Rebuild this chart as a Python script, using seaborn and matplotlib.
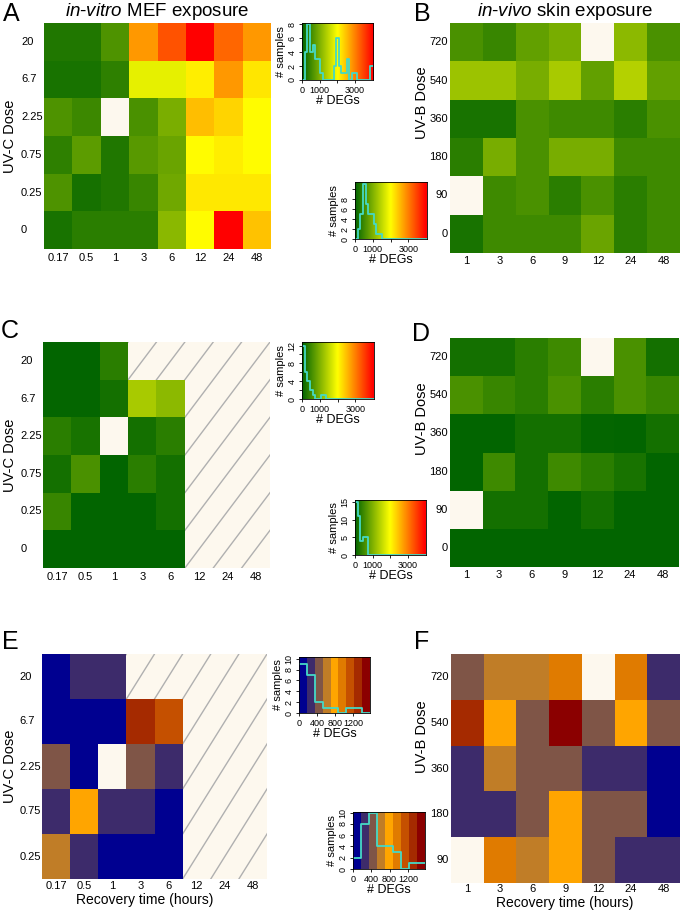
import numpy as np
import pandas as pd
import matplotlib
matplotlib.use("Agg")
from matplotlib import pyplot as plt
from matplotlib.colors import LinearSegmentedColormap, ListedColormap, BoundaryNorm
import seaborn as sns

plt.rcParams['font.family'] = ['Liberation Sans', 'DejaVu Sans']
plt.rcParams['mathtext.fontset'] = 'custom'
plt.rcParams['mathtext.it'] = 'Liberation Sans:italic'
plt.rcParams['mathtext.rm'] = 'Liberation Sans'

NA = np.nan   # sample missing -> blank cell
NT = None     # time point not tested -> hatched cell

invitro_times = ['0.17', '0.5', '1', '3', '6', '12', '24', '48']
invitro_doses = ['20', '6.7', '2.25', '0.75', '0.25', '0']
invivo_times = ['1', '3', '6', '9', '12', '24', '48']
invivo_doses = ['720', '540', '360', '180', '90', '0']

# number of DEGs per sample
a_degs = [
    [250, 250, 620, 2800, 3350, 4000, 3200, 2800],
    [200, 200, 370, 1800, 1800, 2130, 2800, 2200],
    [620, 480, NA, 580, 960, 2500, 2330, 2020],
    [360, 720, 250, 700, 830, 2020, 2130, 2020],
    [620, 180, 250, 450, 880, 2180, 2180, 2180],
    [200, 330, 330, 330, 1080, 2020, 4000, 2480],
]
b_degs = [
    [580, 450, 770, 940, NA, 1100, 580],
    [1230, 1230, 940, 1320, 780, 1410, 770],
    [200, 200, 580, 490, 490, 330, 580],
    [330, 940, 580, 940, 940, 490, 490],
    [NA, 490, 580, 330, 580, 330, 490],
    [200, 490, 490, 490, 830, 330, 490],
]
c_degs = [
    [30, 30, 330, NT, NT, NT, NT, NT],
    [40, 40, 160, 1320, 1100, NT, NT, NT],
    [330, 200, NA, 160, 330, NT, NT, NT],
    [160, 580, 20, 330, 160, NT, NT, NT],
    [450, 30, 30, 30, 160, NT, NT, NT],
    [20, 20, 20, 20, 20, NT, NT, NT],
]
d_degs = [
    [160, 160, 330, 490, NA, 580, 160],
    [580, 450, 330, 580, 330, 580, 450],
    [20, 20, 160, 160, 40, 20, 160],
    [20, 490, 160, 490, 330, 200, 20],
    [NA, 160, 160, 20, 160, 20, 20],
    [20, 20, 20, 20, 20, 20, 20],
]
e_degs = [
    [90, 240, 260, NT, NT, NT, NT, NT],
    [60, 110, 130, 1310, 1130, NT, NT, NT],
    [420, 150, NA, 460, 300, NT, NT, NT],
    [280, 780, 230, 250, 100, NT, NT, NT],
    [610, 320, 70, 120, 140, NT, NT, NT],
]
f_degs = [
    [450, 620, 650, 960, NA, 940, 290],
    [1280, 760, 400, 1480, 470, 820, 430],
    [230, 600, 380, 440, 260, 310, 80],
    [210, 330, 500, 800, 410, 460, 120],
    [NA, 990, 580, 840, 390, 270, 300],
]

# histogram counts in the colour keys (bins of 150 DEGs from 0 to 4050)
a_hist = [0, 4, 8, 4, 5, 3, 3, 1, 0, 0, 0, 0, 2, 6, 2, 1, 1, 3, 0, 1, 1, 0, 0, 0, 0, 0, 2]
b_hist = [0, 2, 5, 11, 7, 5, 5, 3, 1, 1, 0, 0, 0, 0, 0, 0, 0, 0, 0, 0, 0, 0, 0, 0, 0, 0, 0]
c_hist = [12, 6, 4, 2, 1, 0, 0, 1, 1, 0, 0, 0, 0, 0, 0, 0, 0, 0, 0, 0, 0, 0, 0, 0, 0, 0, 0]
d_hist = [15, 11, 4, 5, 5, 0, 0, 0, 0, 0, 0, 0, 0, 0, 0, 0, 0, 0, 0, 0, 0, 0, 0, 0, 0, 0, 0]

W, H = 683, 911
CREAM = '#fdf8ee'
HATCH = '#b0b0b0'
TURQ = '#45d9c6'

green_cmap = LinearSegmentedColormap.from_list('gyr', ['#006400', '#ffff00', '#ff0000'])
GREEN_MAX = 4000
band_colors = ['#000090', '#3d2b6b', '#7f5547', '#c07d27', '#ffa500',
               '#e07b00', '#c55000', '#a52a00', '#8b0000']
band_edges = [float(e) for e in np.arange(0, 1576, 175)]
band_cmap = ListedColormap(band_colors)
band_norm = BoundaryNorm(band_edges, band_cmap.N)
green_edges = [float(e) for e in np.arange(0, 4051, 150)]


def fig_xy(x, y):
    return x / W, 1 - y / H


def px_axes(fig, x0, y0, x1, y1):
    return fig.add_axes([x0 / W, 1 - y1 / H, (x1 - x0) / W, (y1 - y0) / H])


def draw_heatmap(ax, rows, xlabels, ylabels, cmap, norm=None, vmax=None, left=None, xpad=3):
    hatched = np.array([[v is None for v in r] for r in rows])
    vals = np.array([[np.nan if v is None else v for v in r] for r in rows], dtype=float)
    missing = np.isnan(vals) & ~hatched
    nr, nc = vals.shape
    ax.set_facecolor(CREAM)
    if hatched.any():
        for k in range(1, nr + nc):
            ax.plot([k - nr, k], [nr, 0], color=HATCH, lw=1, zorder=0.5)
    df = pd.DataFrame(vals, index=ylabels, columns=xlabels)
    if norm is not None:
        sns.heatmap(df, mask=np.isnan(vals), cmap=cmap, norm=norm, cbar=False, ax=ax)
    else:
        sns.heatmap(df, mask=np.isnan(vals), cmap=cmap, vmin=0, vmax=vmax, cbar=False, ax=ax)
    if missing.any():
        blank = pd.DataFrame(np.zeros_like(vals), index=ylabels, columns=xlabels)
        sns.heatmap(blank, mask=~missing, cmap=ListedColormap([CREAM]), cbar=False, ax=ax)
    ax.set_xlabel('')
    ax.set_ylabel('')
    ax.tick_params(length=0, labelsize=8)
    ax.tick_params(axis='x', pad=xpad)
    plt.setp(ax.get_yticklabels(), rotation=0)
    if left is not None:
        # labels left-aligned, starting 'left' points from the heatmap edge
        ax.tick_params(axis='y', pad=left)
        for lbl in ax.get_yticklabels():
            lbl.set_ha('left')
    else:
        ax.tick_params(axis='y', pad=1.5)


def draw_key(ax, yticks, ylabels, ymax, counts=None, values=None, banded=False):
    if banded:
        band_mid = [(lo + hi) / 2 for lo, hi in zip(band_edges[:-1], band_edges[1:])]
        ax.imshow(np.array([band_mid]), extent=(0, 1575, 0, ymax),
                  aspect='auto', cmap=band_cmap, norm=band_norm, origin='lower')
        flat = [v for r in values for v in r if v is not None and not np.isnan(v)]
        sns.histplot(x=flat, bins=band_edges, element='step', fill=False,
                     color=TURQ, lw=1.3, ax=ax)
        ax.set_xlim(0, 1575)
        ax.set_xticks([0, 400, 800, 1200])
        ax.set_xticklabels(['0', '400', '800', '1200'])
    else:
        ax.imshow(np.linspace(0, 4050, 300)[None, :], extent=(0, 4050, 0, ymax),
                  aspect='auto', cmap=green_cmap, vmin=0, vmax=GREEN_MAX, origin='lower')
        mids = [(lo + hi) / 2 for lo, hi in zip(green_edges[:-1], green_edges[1:])]
        hist_df = pd.DataFrame({'deg': mids, 'n': counts})
        sns.histplot(data=hist_df, x='deg', weights='n', bins=green_edges, element='step',
                     fill=False, color=TURQ, lw=1.3, ax=ax)
        ax.set_xlim(0, 4050)
        ax.set_xticks([0, 1000, 2000, 3000])
        ax.set_xticklabels(['0', '1000', '', '3000'])
    ax.set_ylim(0, ymax)
    ax.set_yticks(yticks)
    ax.set_yticklabels(ylabels, rotation=90, va='center')
    ax.tick_params(length=2.5, width=0.6, labelsize=6.5, pad=1.5)
    ax.set_xlabel('# DEGs', fontsize=9, labelpad=0)
    ax.set_ylabel('# samples', fontsize=8, labelpad=1)
    for s in ax.spines.values():
        s.set_linewidth(0.6)


fig = plt.figure(figsize=(6.83, 9.11), dpi=100)

# heatmaps
ax_a = px_axes(fig, 44, 23, 271, 249)
draw_heatmap(ax_a, a_degs, invitro_times, invitro_doses, green_cmap, vmax=GREEN_MAX, left=16.5)
ax_b = px_axes(fig, 450, 23, 680, 253)
draw_heatmap(ax_b, b_degs, invivo_times, invivo_doses, green_cmap, vmax=GREEN_MAX, xpad=2)
ax_c = px_axes(fig, 43, 342, 270, 568)
draw_heatmap(ax_c, c_degs, invitro_times, invitro_doses, green_cmap, vmax=GREEN_MAX, left=16)
ax_d = px_axes(fig, 450, 338, 679, 567)
draw_heatmap(ax_d, d_degs, invivo_times, invivo_doses, green_cmap, vmax=GREEN_MAX, xpad=2)
ax_e = px_axes(fig, 42, 654, 267, 879)
draw_heatmap(ax_e, e_degs, invitro_times, invitro_doses[:5], band_cmap, norm=band_norm, left=16, xpad=1.5)
ax_f = px_axes(fig, 451, 654, 680, 883)
draw_heatmap(ax_f, f_degs, invivo_times, invivo_doses[:5], band_cmap, norm=band_norm, xpad=0.5)

# colour keys with sample histograms
draw_key(px_axes(fig, 302, 23, 373, 80), [0, 2, 4, 6, 8], ['0', '2', '4', '6', '8'], 8.15, counts=a_hist)
draw_key(px_axes(fig, 355, 182, 427, 239), [0, 2, 4, 6, 8, 10], ['0', '2', '4', '6', '8', ''], 11.4, counts=b_hist)
draw_key(px_axes(fig, 302, 342, 374, 399), [0, 2, 4, 6, 8, 10, 12], ['0', '', '4', '', '8', '', '12'], 12.8, counts=c_hist)
draw_key(px_axes(fig, 355, 500, 426, 555), [0, 5, 10, 15], ['0', '5', '10', '15'], 15.6, counts=d_hist)
draw_key(px_axes(fig, 299, 657, 370, 713), [0, 2, 4, 6, 8, 10], ['0', '2', '4', '6', '8', '10'], 10.3, values=e_degs, banded=True)
draw_key(px_axes(fig, 353, 812, 425, 869), [0, 2, 4, 6, 8, 10], ['0', '2', '4', '6', '8', '10'], 10.1, values=f_degs, banded=True)

# panel letters, titles and axis labels
for letter, (x, y) in zip('ABCDEF', [(11, 14), (422, 14), (10, 331), (421, 334), (10, 642), (422, 642)]):
    fig.text(*fig_xy(x, y), letter, fontsize=18, ha='center', va='center')
fig.text(*fig_xy(157, 12), r'$\mathit{in}$-$\mathit{vitro}$ MEF exposure', fontsize=13.5, ha='center', va='center')
fig.text(*fig_xy(565, 12), r'$\mathit{in}$-$\mathit{vivo}$ skin exposure', fontsize=13.5, ha='center', va='center')
for y in [136, 455, 766]:
    fig.text(*fig_xy(10.5, y), 'UV-C Dose', fontsize=10.5, rotation=90, ha='center', va='center')
for y in [103, 419, 737]:
    fig.text(*fig_xy(422, y), 'UV-B Dose', fontsize=10.5, rotation=90, ha='center', va='center')
fig.text(*fig_xy(145, 900), 'Recovery time (hours)', fontsize=10, ha='center', va='center')
fig.text(*fig_xy(565, 903.5), 'Recovery time (hours)', fontsize=10, ha='center', va='center')

fig.savefig('out.png', dpi=100)
